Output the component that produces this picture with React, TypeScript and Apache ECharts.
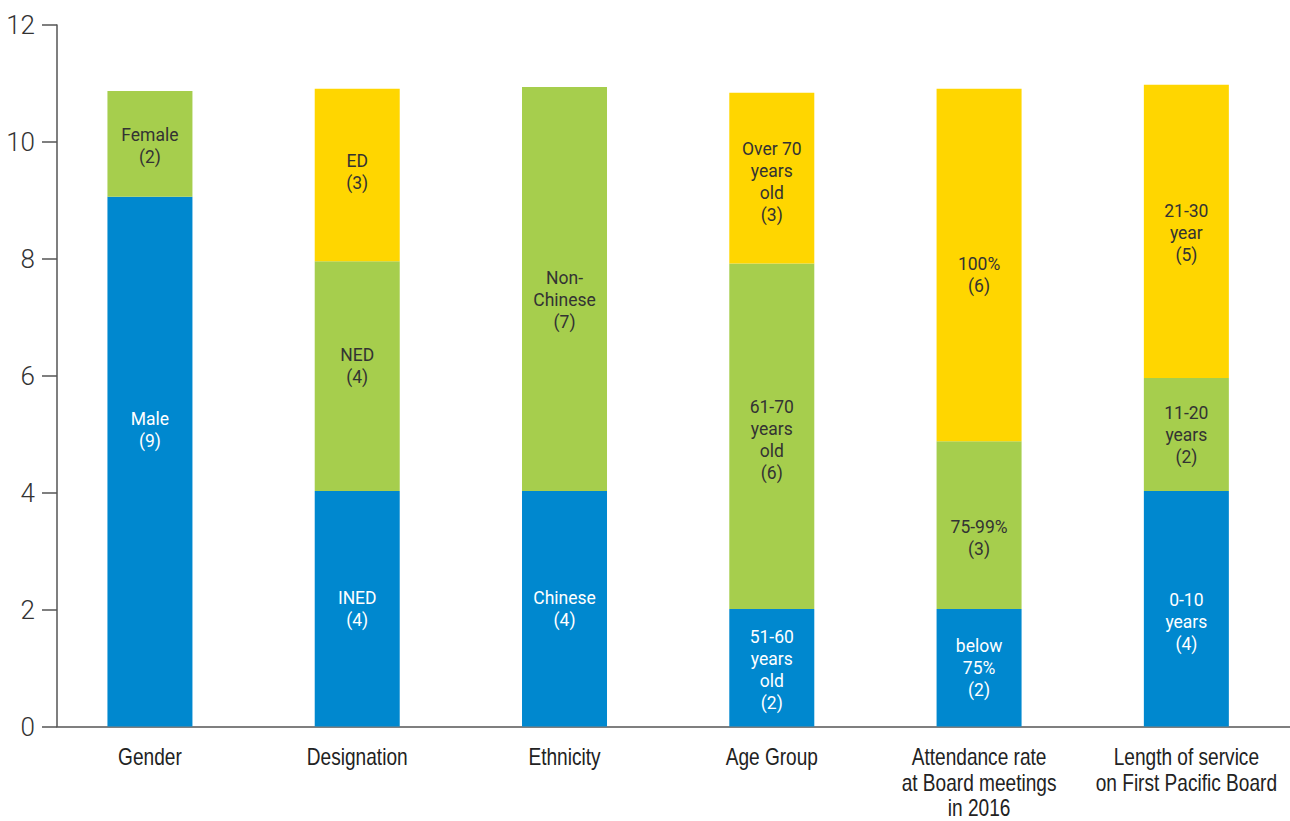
import React, { useEffect, useRef } from "react";
import * as echarts from "echarts";

const categories = [
  "Gender",
  "Designation",
  "Ethnicity",
  "Age Group",
  "Attendance rate\nat Board meetings\nin 2016",
  "Length of service\non First Pacific Board",
];

// segment heights (bottom, middle, top)
const blueValues = [9.06, 4.03, 4.03, 2.01, 2.01, 4.03];
const greenValues = [1.81, 3.93, 6.91, 5.91, 2.87, 1.93];
const yellowValues = [null, 2.95, null, 2.92, 6.03, 5.02];

const blueLabels = ["Male\n(9)", "INED\n(4)", "Chinese\n(4)", "51-60\nyears\nold\n(2)", "below\n75%\n(2)", "0-10\nyears\n(4)"];
const greenLabels = ["Female\n(2)", "NED\n(4)", "Non-\nChinese\n(7)", "61-70\nyears\nold\n(6)", "75-99%\n(3)", "11-20\nyears\n(2)"];
const yellowLabels = ["", "ED\n(3)", "", "Over 70\nyears\nold\n(3)", "100%\n(6)", "21-30\nyear\n(5)"];

const yTicks = { min: 0, max: 12, interval: 2 };

// label vertical nudges (px) to mimic the reference placement
const blueNudge = [-32, 0, 0, 2, 0, 13];
const greenNudge = [2, -10, 11, 4, 13, 0];
const yellowNudge = [0, -3, 0, 4, 10, 2];

const BLUE = "#0088cf";
const GREEN = "#a6ce4d";
const YELLOW = "#ffd600";
const TEXT_DARK = "#333333";
const AXIS = "#555555";
const LABEL_FONT = "Roboto, 'Noto Sans', sans-serif";
const CAT_FONT = "'Liberation Sans', Arial, sans-serif";

function makeSeries(name: string, values: (number | null)[], labels: string[], nudges: number[], color: string, textColor: string) {
  return {
    name,
    type: "bar",
    stack: "total",
    xAxisIndex: 0,
    yAxisIndex: 0,
    barWidth: 85,
    itemStyle: { color },
    data: values.map((v, i) => ({
      value: v,
      label: { offset: [0, nudges[i]] },
    })),
    label: {
      show: true,
      position: "inside",
      color: textColor,
      fontSize: 17.5,
      lineHeight: 22,
      fontFamily: LABEL_FONT,
      formatter: (p: any) => labels[p.dataIndex] || "",
    },
  };
}

export default function App() {
  const ref = useRef<HTMLDivElement>(null);
  useEffect(() => {
    if (!ref.current) return;
    const chart = echarts.init(ref.current, null, { renderer: "svg" });
    chart.setOption({
      animation: false,
      backgroundColor: "#ffffff",
      grid: [
        { left: 46.3, right: 0, top: 25, bottom: 94.5, outerBoundsMode: "none", containLabel: false },
        { left: 57, right: 0, top: 25, bottom: 94.5, outerBoundsMode: "none", containLabel: false },
      ],
      xAxis: [
        {
          type: "category",
          gridIndex: 0,
          data: categories,
          axisLine: { show: false },
          axisTick: { show: false },
          axisLabel: { show: false },
        },
        {
          type: "value",
          gridIndex: 1,
          min: 0,
          max: 1,
          axisLine: { show: true, lineStyle: { color: AXIS, width: 1.5 } },
          axisTick: { show: false },
          axisLabel: { show: false },
          splitLine: { show: false },
        },
      ],
      yAxis: [
        {
          type: "value",
          gridIndex: 0,
          min: yTicks.min,
          max: yTicks.max,
          interval: yTicks.interval,
          show: false,
          splitLine: { show: false },
        },
        {
          type: "value",
          gridIndex: 1,
          min: yTicks.min,
          max: yTicks.max,
          interval: yTicks.interval,
          axisLine: { show: true, lineStyle: { color: AXIS, width: 1.5 } },
          axisTick: { show: true, length: 15, lineStyle: { color: AXIS, width: 1.5 } },
          axisLabel: {
            color: "#333333",
            fontSize: 26,
            fontFamily: "Roboto, sans-serif",
            fontWeight: 300,
            margin: 22,
          },
          splitLine: { show: false },
        },
      ],
      series: [
        makeSeries("Blue", blueValues, blueLabels, blueNudge, BLUE, "#ffffff"),
        makeSeries("Green", greenValues, greenLabels, greenNudge, GREEN, TEXT_DARK),
        makeSeries("Yellow", yellowValues, yellowLabels, yellowNudge, YELLOW, TEXT_DARK),
      ],
    });

    // condensed category labels placed at the category axis positions
    const baseY = chart.convertToPixel({ yAxisIndex: 0 }, 0) as number;
    const graphics = categories.map((c, i) => {
      const x = chart.convertToPixel({ xAxisIndex: 0 }, i) as number;
      return {
        type: "text",
        x,
        y: baseY + 18,
        scaleX: 0.83,
        silent: true,
        style: {
          text: c,
          fill: "#222222",
          font: `23px ${CAT_FONT}`,
          lineHeight: 25.5,
          align: "center",
          verticalAlign: "top",
        },
      };
    });
    chart.setOption({ graphic: graphics });

    return () => chart.dispose();
  }, []);
  return (
    <div
      ref={ref}
      style={{ position: "fixed", left: 0, top: 0, width: 1290, height: 821, background: "#fff" }}
    />
  );
}
